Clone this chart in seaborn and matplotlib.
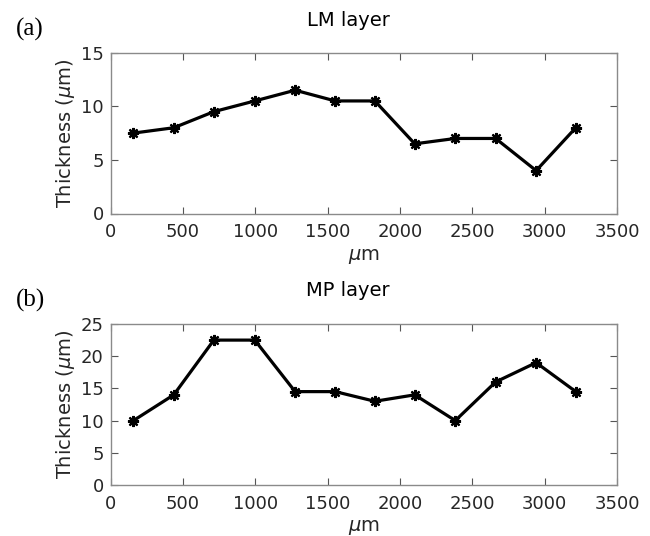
import matplotlib
matplotlib.use("Agg")
import matplotlib.pyplot as plt
import seaborn as sns
import pandas as pd

positions = [157, 436, 713, 996, 1275, 1552, 1826, 2102, 2382, 2661, 2941, 3215]
lm_thickness = [7.5, 8, 9.5, 10.5, 11.5, 10.5, 10.5, 6.5, 7, 7, 4, 8]
mp_thickness = [10, 14, 22.5, 22.5, 14.5, 14.5, 13, 14, 10, 16, 19, 14.5]
x_ticks = [0, 500, 1000, 1500, 2000, 2500, 3000, 3500]
lm_yticks = [0, 5, 10, 15]
mp_yticks = [0, 5, 10, 15, 20, 25]

sns.set_theme(style="white")
plt.rcParams['font.family'] = ['DejaVu Sans']
plt.rcParams['mathtext.fontset'] = 'dejavusans'

fig = plt.figure(figsize=(6.5, 5.36), dpi=100)
W, H = 650, 536

def make_ax(top_px, bottom_px):
    left, right = 110.7, 617
    return fig.add_axes([left / W, 1 - bottom_px / H, (right - left) / W, (bottom_px - top_px) / H])

ax1 = make_ax(52.7, 213.5)
ax2 = make_ax(324, 485)

txtc = '#262626'
for ax, y, yticks, title, lab, ttl_y, lab_y in [
    (ax1, lm_thickness, lm_yticks, 'LM layer', '(a)', 21, 29),
    (ax2, mp_thickness, mp_yticks, 'MP layer', '(b)', 291, 300),
]:
    df = pd.DataFrame({'x': positions, 'y': y})
    sns.lineplot(data=df, x='x', y='y', ax=ax, color='black', linewidth=2.3,
                 marker=(8, 2, 0), markersize=8, markeredgewidth=1.6,
                 markeredgecolor='black', markerfacecolor='black')
    ax.set_xlim(0, 3500)
    ax.set_ylim(yticks[0], yticks[-1])
    ax.set_xticks(x_ticks)
    ax.set_yticks(yticks)
    ax.tick_params(direction='in', length=5, width=0.8, color='#555555', labelsize=13,
                   labelcolor=txtc, top=True, right=True, bottom=True, left=True)
    ax.tick_params(axis='x', pad=7)
    ax.tick_params(axis='y', pad=5)
    for s in ax.spines.values():
        s.set_color('#8a8a8a')
        s.set_linewidth(1.0)
    ax.set_xlabel(r'$\mu$m', fontsize=14, color=txtc, labelpad=4)
    ax.set_ylabel(r'Thickness ($\mu$m)', fontsize=14, color=txtc, labelpad=3)
    fig.text(348 / W, 1 - ttl_y / H, title, ha='center', va='center', fontsize=14, color='black')
    fig.text(16 / W, 1 - lab_y / H, lab, ha='left', va='center', fontsize=18,
             family=['Liberation Serif'], color='black')

fig.savefig('out.png', dpi=100)
